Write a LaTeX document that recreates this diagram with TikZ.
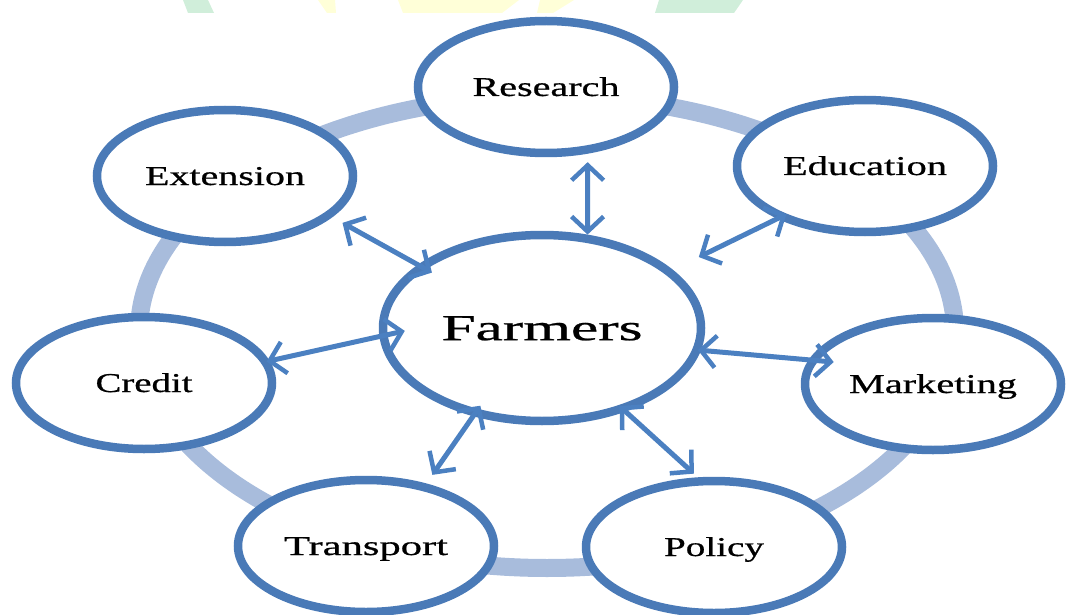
\documentclass[tikz,border=0pt]{standalone}
\usepackage{fontspec}
\setmainfont{Liberation Serif}
\newfontfamily\labelfont{Liberation Serif}[FakeBold=0.6]
\usetikzlibrary{shapes.geometric,arrows.meta}
\definecolor{nodeblue}{RGB}{74,122,183}
\definecolor{ringblue}{RGB}{168,188,220}
\definecolor{arrowblue}{RGB}{75,128,193}
\definecolor{wmgreen}{RGB}{208,238,218}
\definecolor{wmyellow}{RGB}{255,255,216}
% label stretched to a given width, natural height kept
\newcommand{\wlabel}[2]{\resizebox{#1pt}{\height}{#2}}
\begin{document}
\begin{tikzpicture}[x=1pt,y=-1pt,
  unit/.style={ellipse, draw=nodeblue, line width=8.5pt, fill=white, inner sep=0pt,
    minimum width=256pt, minimum height=132pt, text height=18pt, text depth=0pt,
    font=\labelfont\fontsize{27.2}{28}\selectfont},
  hub/.style={unit, minimum width=318pt, minimum height=186pt, text height=24.3pt,
    font=\labelfont\fontsize{36.7}{37}\selectfont},
  barb/.tip={Straight Barb[length=15pt,width=32pt,line width=4.5pt]},
  link/.style={arrowblue, line width=5pt, {barb}-{barb}},
  ring/.style={ringblue, line width=18pt}]
\useasboundingbox (0,0) rectangle (1071,615);

% faint banner marks along the top edge
\fill[wmgreen] (183,0) -- (208,0) -- (214,13) -- (188,13) -- cycle;
\fill[wmyellow] (318,0) -- (335,0) -- (336,13) -- (327,13) -- cycle;
\fill[wmyellow] (398,0) -- (519,0) -- (502,13) -- (403,13) -- cycle;
\fill[wmyellow] (540,0) -- (574,0) -- (553,13) -- (537,13) -- cycle;
\fill[wmgreen] (659,0) -- (743,0) -- (734,13) -- (655,13) -- cycle;

% outer cycle
\draw[ring] (547,332) ellipse [x radius=408, y radius=236];

% nodes
\node[hub]  (farm)  at (542,328) {\wlabel{201}{Farmers}};
\node[unit] (res)   at (546,87)  {\wlabel{147}{Research}};
\node[unit] (edu)   at (865,166) {\wlabel{164}{Education}};
\node[unit] (ext)   at (225,176) {\wlabel{160}{Extension}};
\node[unit] (cred)  at (144,383) {\wlabel{97}{Credit}};
\node[unit] (mkt)   at (933,384) {\wlabel{168}{Marketing}};
\node[unit] (trans) at (366,546) {\wlabel{164}{Transport}};
\node[unit] (pol)   at (714,547) {\wlabel{100}{Policy}};

% two-way links to the hub
\draw[link, shorten <=8.5pt] (res.-58.3) -- (farm.64.2);
\draw[link, shorten <=11.8pt, shorten >=-16pt] (ext.-21) -- (farm.153);
\draw[link, shorten <=-10pt, shorten >=29pt] (edu.211.8) -- (farm.24.8);
\draw[link, shorten <=-3pt, shorten >=-26pt] (cred.10.8) -- (farm.-177.2);
\draw[link, shorten <=-25pt, shorten >=-3pt] (mkt.169.9) -- (farm.-8);
\draw[link, shorten <=10.5pt, shorten >=-12.7pt] (trans.46.1) -- (farm.-128.8);
\draw[link, shorten <=5.4pt, shorten >=-8pt] (pol.103.8) -- (farm.-45.1);
\end{tikzpicture}
\end{document}
